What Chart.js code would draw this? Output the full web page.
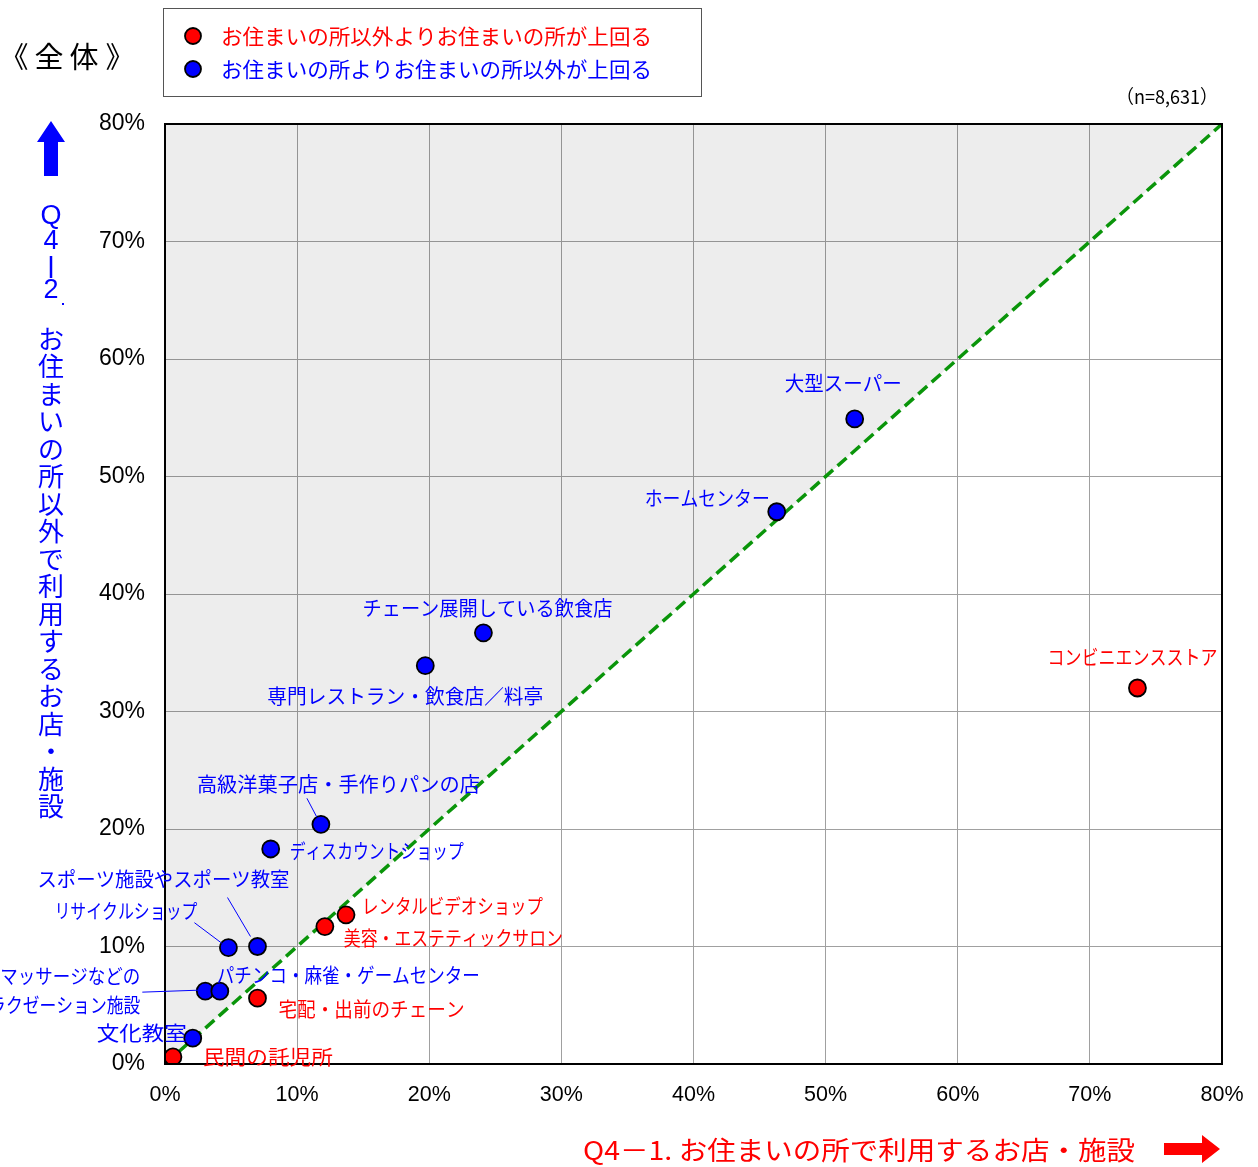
<!DOCTYPE html>
<html>
<head>
<meta charset="utf-8">
<script src="https://cdn.jsdelivr.net/npm/chart.js@4.4.1/dist/chart.umd.min.js"></script>
<style>
  html, body { margin: 0; padding: 0; background: #fff; }
  #wrap { width: 1258px; height: 1167px; }
</style>
</head>
<body>
<div id="wrap"><canvas id="c" width="1258" height="1167"></canvas></div>
<script>
// ── Data ──────────────────────────────────────────────────────────────────────
const NAMES = [
  '大型スーパー', 'ホームセンター', 'チェーン展開している飲食店', '専門レストラン・飲食店／料亭',
  'コンビニエンスストア', '高級洋菓子店・手作りパンの店', 'ディスカウントショップ', 'スポーツ施設やスポーツ教室',
  'リサイクルショップ', 'マッサージなどのリラクゼーション施設', 'パチンコ・麻雀・ゲームセンター', '宅配・出前のチェーン',
  '文化教室', '民間の託児所', 'レンタルビデオショップ', '美容・エステティックサロン',
];
// Q4-1: used near home (%)
const NEAR_HOME = [52.2, 46.3, 24.1, 19.7, 73.6, 11.8, 8.0, 7.0, 4.8, 3.05, 4.15, 7.0, 2.1, 0.6, 13.7, 12.1];
// Q4-2: used away from home (%)
const AWAY_HOME = [54.9, 47.0, 36.7, 33.9, 32.0, 20.4, 18.3, 10.0, 9.9, 6.2, 6.2, 5.6, 2.2, 0.6, 12.7, 11.7];
// 'r' = home exceeds away, 'b' = away exceeds home
const GROUP = ['b','b','b','b','r','b','b','b','b','b','b','r','b','r','r','r'];

const AXIS_TICKS = [0, 10, 20, 30, 40, 50, 60, 70, 80];
const LEGEND_RED  = 'お住まいの所以外よりお住まいの所が上回る';
const LEGEND_BLUE = 'お住まいの所よりお住まいの所以外が上回る';
const N_NOTE = '（n=8,631）';
const X_TITLE = 'Q4－1. お住まいの所で利用するお店・施設';
const Y_TITLE = 'お住まいの所以外で利用するお店・施設';

// ── Label layout (pixel offsets from each point) ─────────────────────────────
const LABEL_LAYOUT = [
  { dx: -70,  dy: -36, w: 117 },
  { dx: -132, dy: -13, w: 125 },
  { dx: -121, dy: -24, w: 250 },
  { dx: -158, dy: 31,  w: 276 },
  { dx: -90,  dy: -31, w: 170 },
  { dx: -124, dy: -40, w: 283, lead: [-14, -26, -4, -7] },
  { dx: 19,   dy: 2,   w: 174 },
  { dx: -220, dy: -67, w: 252, lead: [-30, -49, -7, -10] },
  { dx: -174, dy: -36, w: 143, lead: [-34, -25, -6, -4] },
  { lines: [['マッサージなどの', -205, -15, 140], ['リラクゼーション施設', -233, 14, 168]], lead: [-63, 1, -6, -1] },
  { dx: -3,   dy: -16, w: 263 },
  { dx: 21,   dy: 11,  w: 186 },
  { dx: -96,  dy: -5,  w: 90 },
  { dx: 30,   dy: 0,   w: 130 },
  { dx: 16,   dy: -8,  w: 181 },
  { dx: 19,   dy: 12,  w: 219 },
];

const RED  = '#ff0000';
const BLUE = '#0000ff';
const JP   = '"Noto Sans CJK JP", sans-serif';

function pointsOf(g) {
  const pts = [];
  NAMES.forEach((n, i) => { if (GROUP[i] === g) pts.push({ x: NEAR_HOME[i], y: AWAY_HOME[i] }); });
  return pts;
}

// draw text stretched/squeezed to exactly width w, starting at x
function fitText(ctx, t, x, y, w) {
  const m = ctx.measureText(t).width;
  ctx.save();
  ctx.translate(x, y);
  ctx.scale(w / m, 1);
  ctx.textAlign = 'left';
  ctx.fillText(t, 0, 0);
  ctx.restore();
}

// ── Extra drawing: labels, titles, legend, arrows ────────────────────────────
const decorPlugin = {
  id: 'decor',
  afterDatasetsDraw(chart) {
    const { ctx, chartArea: a, scales } = chart;
    ctx.save();

    // plot border
    ctx.strokeStyle = '#000';
    ctx.lineWidth = 2;
    ctx.strokeRect(a.left, a.top, a.right - a.left, a.bottom - a.top);

    // point labels
    ctx.font = '20px ' + JP;
    ctx.textBaseline = 'middle';
    NAMES.forEach((name, i) => {
      const px = scales.x.getPixelForValue(NEAR_HOME[i]);
      const py = scales.y.getPixelForValue(AWAY_HOME[i]);
      const lay = LABEL_LAYOUT[i];
      const col = GROUP[i] === 'r' ? RED : BLUE;
      ctx.fillStyle = col;
      const lines = lay.lines || [[name, lay.dx, lay.dy, lay.w]];
      lines.forEach(([t, dx, dy, w]) => fitText(ctx, t, px + dx, py + dy, w));
      if (lay.lead) {
        const [x1, y1, x2, y2] = lay.lead;
        ctx.strokeStyle = col;
        ctx.lineWidth = 1;
        ctx.beginPath();
        ctx.moveTo(px + x1, py + y1);
        ctx.lineTo(px + x2, py + y2);
        ctx.stroke();
      }
    });
    ctx.restore();
  },
  afterDraw(chart) {
    const ctx = chart.ctx;
    ctx.save();
    ctx.textBaseline = 'middle';

    // title
    ctx.fillStyle = '#000';
    ctx.font = '29px ' + JP;
    ctx.textAlign = 'center';
    [['《', 14], ['全', 49], ['体', 84], ['》', 120]].forEach(([c, x]) => ctx.fillText(c, x, 57));

    // legend box
    ctx.fillStyle = '#fff';
    ctx.fillRect(163, 8, 538, 88);
    ctx.strokeStyle = '#555';
    ctx.lineWidth = 1;
    ctx.strokeRect(163.5, 8.5, 538, 88);
    [[RED, LEGEND_RED, 36], [BLUE, LEGEND_BLUE, 69]].forEach(([col, txt, y]) => {
      ctx.beginPath();
      ctx.arc(193, y, 8, 0, Math.PI * 2);
      ctx.fillStyle = col;
      ctx.fill();
      ctx.lineWidth = 1.8;
      ctx.strokeStyle = '#000';
      ctx.stroke();
      ctx.fillStyle = col;
      ctx.font = '21px ' + JP;
      fitText(ctx, txt, 221, y, 431);
    });

    // n note
    ctx.fillStyle = '#000';
    ctx.font = '19px ' + JP;
    fitText(ctx, N_NOTE, 1116, 97, 102);

    // y-axis title (vertical)
    ctx.fillStyle = BLUE;
    ctx.strokeStyle = BLUE;
    ctx.textAlign = 'center';
    ctx.font = '27px "Liberation Sans", sans-serif';
    [['Q', 217], ['4', 242], ['2', 291]].forEach(([c, y]) => ctx.fillText(c, 51, y));
    ctx.lineWidth = 2.5;
    ctx.beginPath();
    ctx.moveTo(51, 256);
    ctx.lineTo(51, 278);
    ctx.stroke();
    ctx.fillRect(62, 303, 2, 2);
    ctx.font = '26px ' + JP;
    Array.from(Y_TITLE).forEach((c, k) => ctx.fillText(c, 51, 339 + k * 27.5));

    // up arrow
    ctx.beginPath();
    ctx.moveTo(51, 121);
    ctx.lineTo(65, 142);
    ctx.lineTo(58, 142);
    ctx.lineTo(58, 176);
    ctx.lineTo(44, 176);
    ctx.lineTo(44, 142);
    ctx.lineTo(37, 142);
    ctx.closePath();
    ctx.fill();

    // x-axis title
    ctx.fillStyle = RED;
    ctx.font = '26px ' + JP;
    fitText(ctx, X_TITLE, 583, 1150, 552);

    // right arrow
    ctx.beginPath();
    ctx.moveTo(1164, 1143);
    ctx.lineTo(1202, 1143);
    ctx.lineTo(1202, 1135);
    ctx.lineTo(1220, 1149);
    ctx.lineTo(1202, 1163);
    ctx.lineTo(1202, 1155);
    ctx.lineTo(1164, 1155);
    ctx.closePath();
    ctx.fill();

    ctx.restore();
  },
};

// ── Chart ─────────────────────────────────────────────────────────────────────
const pointStyle = col => ({
  backgroundColor: col,
  borderColor: '#000',
  borderWidth: 1.8,
  pointRadius: 8.5,
  pointHoverRadius: 8.5,
});

new Chart(document.getElementById('c').getContext('2d'), {
  type: 'scatter',
  data: {
    datasets: [
      { label: LEGEND_RED,  data: pointsOf('r'), order: 1, ...pointStyle(RED) },
      { label: LEGEND_BLUE, data: pointsOf('b'), order: 1, ...pointStyle(BLUE) },
      {
        label: 'diag',
        data: [{ x: AXIS_TICKS[0], y: AXIS_TICKS[0] }, { x: AXIS_TICKS[8], y: AXIS_TICKS[8] }],
        showLine: true,
        borderColor: '#0a950a',
        borderWidth: 3.5,
        borderDash: [12, 6],
        pointRadius: 0,
        fill: 'end',
        backgroundColor: 'rgba(0,0,0,0.07)',
        order: 5,
      },
    ],
  },
  options: {
    responsive: false,
    animation: false,
    devicePixelRatio: 1,
    layout: { padding: { left: 0, top: 124, right: 36, bottom: 0 } },
    plugins: { legend: { display: false }, tooltip: { enabled: false } },
    scales: {
      x: {
        min: 0, max: 80,
        afterBuildTicks: s => { s.ticks = AXIS_TICKS.map(v => ({ value: v })); },
        afterFit: s => { s.height = 103; s.paddingLeft = 0; s.paddingRight = 0; },
        grid: { color: '#a0a0a0', lineWidth: 1, drawTicks: false },
        border: { display: false },
        ticks: {
          padding: 18,
          color: '#000',
          font: { family: '"Liberation Sans", Arial, sans-serif', size: 21.5 },
          callback: v => v + '%',
        },
      },
      y: {
        min: 0, max: 80,
        afterBuildTicks: s => { s.ticks = AXIS_TICKS.map(v => ({ value: v })); },
        afterFit: s => { s.width = 165; s.paddingTop = 0; s.paddingBottom = 0; },
        grid: { color: '#a0a0a0', lineWidth: 1, drawTicks: false },
        border: { display: false },
        ticks: {
          padding: 20,
          color: '#000',
          font: { family: '"Liberation Sans", Arial, sans-serif', size: 23 },
          callback: v => v + '%',
        },
      },
    },
  },
  plugins: [decorPlugin],
});
</script>
</body>
</html>
